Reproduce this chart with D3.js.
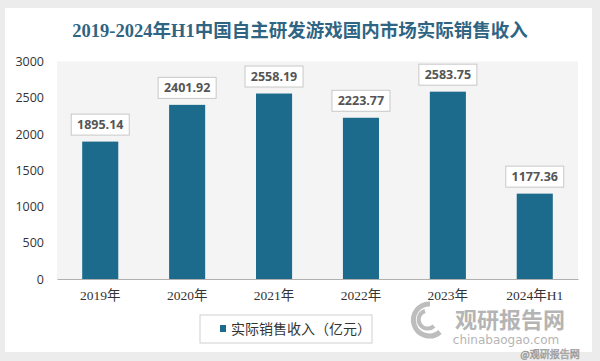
<!DOCTYPE html>
<html><head><meta charset="utf-8">
<script src="https://cdn.jsdelivr.net/npm/d3@7/dist/d3.min.js"></script>
<style>
body{margin:0;background:#ececec;}
svg{display:block;}
</style></head>
<body><svg id="c" width="600" height="361"></svg>
<script>
const categories = ["2019年","2020年","2021年","2022年","2023年","2024年H1"];
const values = [1895.14, 2401.92, 2558.19, 2223.77, 2583.75, 1177.36];
const yTicks = [0,500,1000,1500,2000,2500,3000];
const title = "2019-2024年H1中国自主研发游戏国内市场实际销售收入";
const seriesName = "实际销售收入（亿元）";

const svg = d3.select("#c");
const W=600,H=361;
const m={left:57,right:22,top:61.5,bottom:82};
// card
svg.append("rect").attr("x",5).attr("y",8).attr("width",587).attr("height",344).attr("fill","#fff");
// title
svg.append("text").attr("x",300).attr("y",37).attr("text-anchor","middle")
  .attr("font-family","'Liberation Serif','Noto Sans CJK SC',serif").attr("font-weight","bold")
  .attr("font-size",18.5).attr("fill","#2f6482").text(title);

const x=d3.scaleBand().domain(categories).range([m.left,W-m.right]).paddingInner(0.585).paddingOuter(0.29);
const y=d3.scaleLinear().domain([0,3000]).range([H-m.bottom,m.top]);

svg.append("rect").attr("x",m.left).attr("y",y(3000)).attr("width",W-m.right-m.left).attr("height",y(0)-y(3000)).attr("fill","#f4f4f4");

const yAxis=d3.axisLeft(y).tickValues(yTicks).tickFormat(d3.format("d")).tickSize(0).tickPadding(13);
const gy=svg.append("g").attr("transform",`translate(${m.left},0)`).call(yAxis);
gy.select(".domain").remove();
gy.selectAll("text").attr("font-family","'Open Sans','DejaVu Sans',sans-serif").attr("font-size",12.5).attr("fill","#333");

svg.selectAll("rect.bar").data(values).join("rect").attr("class","bar")
  .attr("x",(d,i)=>x(categories[i])).attr("width",x.bandwidth())
  .attr("y",d=>y(d)).attr("height",d=>y(0)-y(d)).attr("fill","#1c6a8c");

const xAxis=d3.axisBottom(x).tickSize(0).tickPadding(11);
const gx=svg.append("g").attr("transform",`translate(0,${y(0)})`).call(xAxis);
gx.select(".domain").attr("stroke","#b0b0b0").attr("stroke-width",1.2);
gx.selectAll("text").attr("font-family","'Liberation Serif','Noto Sans CJK SC',serif").attr("font-size",13.5).attr("fill","#333");

// data labels
const lg=svg.append("g");
values.forEach((v,i)=>{
  const cx=x(categories[i])+x.bandwidth()/2, cy=y(v)-17;
  lg.append("rect").attr("x",cx-29).attr("y",cy-10.5).attr("width",58).attr("height",21)
    .attr("fill","#fff").attr("stroke","#c8c8c8").attr("stroke-width",1);
  lg.append("text").attr("x",cx).attr("y",cy).attr("dy","0.35em").attr("text-anchor","middle")
    .attr("font-family","'Open Sans','DejaVu Sans',sans-serif").attr("font-weight","bold").attr("font-size",12.5).attr("fill","#555").text(v.toFixed(2));
});

// legend
svg.append("rect").attr("x",200).attr("y",315).attr("width",172).attr("height",28).attr("fill","#fff").attr("stroke","#d0d0d0");
svg.append("rect").attr("x",220).attr("y",325).attr("width",6).attr("height",7).attr("fill","#1c6a8c");
svg.append("text").attr("x",231).attr("y",329).attr("dy","0.35em")
  .attr("font-family","'Noto Sans CJK SC',sans-serif").attr("font-size",14).attr("fill","#333").text(seriesName);

// watermark
const wm=svg.append("g").attr("opacity",0.55);
wm.append("path").attr("d","M430,304 A16,16 0 1,0 440,332").attr("fill","none").attr("stroke","#888").attr("stroke-width",5);
wm.append("path").attr("d","M425,311 A9,9 0 1,0 434,326").attr("fill","none").attr("stroke","#888").attr("stroke-width",4);
wm.append("text").attr("x",510).attr("y",328).attr("text-anchor","middle").attr("font-family","'Noto Sans CJK SC',sans-serif").attr("font-weight","bold").attr("font-size",22).attr("fill","#777").text("观研报告网");
wm.append("text").attr("x",506).attr("y",344).attr("text-anchor","middle").attr("font-family","'DejaVu Sans',sans-serif").attr("font-size",12).attr("fill","#777").text("chinabaogao.com");
svg.append("text").attr("x",550).attr("y",358).attr("text-anchor","middle").attr("font-family","'Noto Sans CJK SC',sans-serif").attr("font-size",10).attr("fill","#fff").attr("stroke","#999").attr("stroke-width",0.6).text("@观研报告网");
</script></body></html>
